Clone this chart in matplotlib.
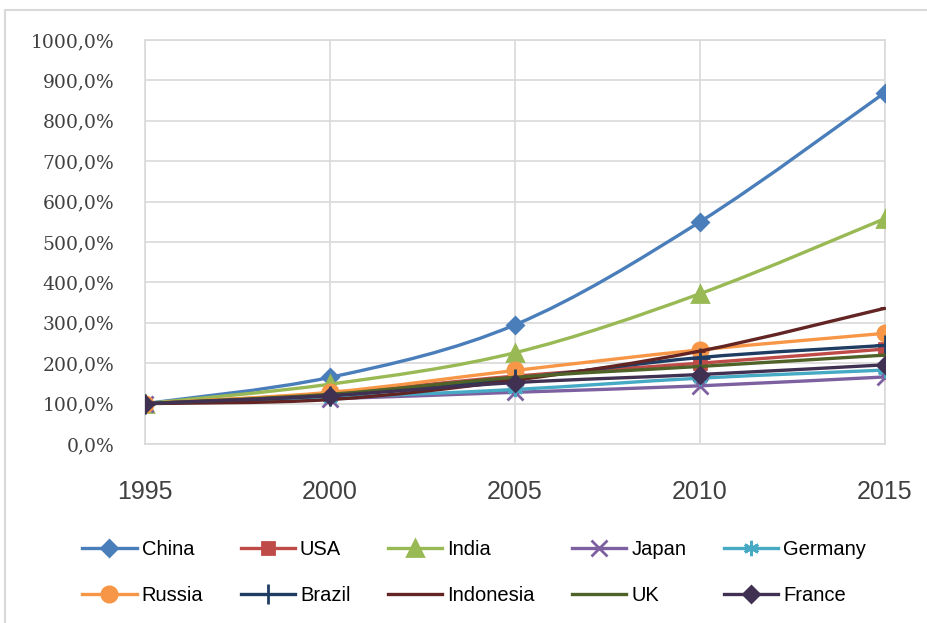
import numpy as np
import matplotlib
matplotlib.use("Agg")
import matplotlib.pyplot as plt
from matplotlib.path import Path
from matplotlib.patches import PathPatch, Rectangle
from matplotlib.lines import Line2D

years = [1995, 2000, 2005, 2010, 2015]

# growth relative to 1995, in percent
china = [100, 165, 295, 550, 870]
usa = [100, 125, 168, 200, 235]
india = [100, 148, 226, 372, 558]
japan = [100, 112, 128, 144, 166]
germany = [100, 115, 135, 163, 183]
russia = [100, 128, 182, 233, 274]
brazil = [100, 120, 162, 214, 244]
indonesia = [100, 110, 158, 230, 336]
uk = [100, 123, 165, 192, 220]
france = [100, 120, 152, 172, 196]

names = ["China", "USA", "India", "Japan", "Germany",
         "Russia", "Brazil", "Indonesia", "UK", "France"]
series = [china, usa, india, japan, germany,
          russia, brazil, indonesia, uk, france]

colors = ["#4A7EBB", "#BE4B48", "#98B954", "#7D60A0", "#46AAC5",
          "#F79646", "#1F3D63", "#632523", "#4F6228", "#403152"]
markers = ["D", "s", "^", "x", (6, 2, 0), "o", "+", "_", "_", "D"]
msizes = [8, 9, 11, 11, 11, 11, 14, 7, 7, 8]


def smooth_path(x, y):
    # Catmull-Rom style bezier through the points (like Excel's smoothed line)
    pts = np.column_stack([x, y]).astype(float)
    ext = np.vstack([pts[0], pts, pts[-1]])
    verts = [pts[0]]
    codes = [Path.MOVETO]
    for i in range(len(pts) - 1):
        p0, p1, p2, p3 = ext[i], ext[i + 1], ext[i + 2], ext[i + 3]
        c1 = p1 + (p2 - p0) / 6.0
        c2 = p2 - (p3 - p1) / 6.0
        verts += [c1, c2, p2]
        codes += [Path.CURVE4] * 3
    return Path(verts, codes)


fig = plt.figure(figsize=(9.28, 6.23), dpi=100)
ax = fig.add_axes([145 / 928, 179 / 623, 740 / 928, 404 / 623])

grey = "#D9D9D9"
handles = []
for i, (name, vals) in enumerate(zip(names, series)):
    z = 3 + i * 0.1
    patch = PathPatch(smooth_path(years, vals), facecolor="none",
                      edgecolor=colors[i], lw=2.4, zorder=z,
                      capstyle="round", joinstyle="round")
    ax.add_patch(patch)
    ax.plot(years, vals, ls="none", marker=markers[i], ms=msizes[i],
            color=colors[i], mec=colors[i], mew=2, zorder=z + 0.05)
    handles.append(Line2D([], [], color=colors[i], lw=2.4, marker=markers[i],
                          ms=msizes[i], mew=2, mec=colors[i]))

ax.set_xlim(1995, 2015)
ax.set_ylim(0, 1000)
ax.set_xticks(years)
ax.set_yticks(np.arange(0, 1001, 100))
ax.set_yticklabels([f"{v},0%" for v in range(0, 1001, 100)],
                   family="DejaVu Serif", fontsize=13.5, color="#404040")
ax.set_xticklabels([str(y) for y in years], family="Liberation Sans",
                   fontsize=18, color="#404040")
ax.tick_params(axis="y", length=0, pad=22)
ax.tick_params(axis="x", length=0, pad=26)
ax.grid(True, color=grey, lw=1.2, zorder=0)
ax.set_axisbelow(True)
for sp in ax.spines.values():
    sp.set_color(grey)
    sp.set_linewidth(1.2)

# legend filled column-wise, so reorder to get two rows
order = [0, 5, 1, 6, 2, 7, 3, 8, 4, 9]
fig.legend([handles[k] for k in order], [names[k] for k in order],
           loc="center", bbox_to_anchor=(474 / 928, 50.5 / 623), ncol=5,
           frameon=False, prop={"family": "Liberation Sans", "size": 14.5},
           handlelength=2.7, handletextpad=0.25, columnspacing=1.85,
           labelspacing=1.3, borderpad=0, numpoints=1)

# outer chart border (cut by the image edge on right and bottom)
fig.patches.append(Rectangle((5 / 928, -0.1), 1.2, (613 / 623) + 0.1,
                             transform=fig.transFigure, fill=False,
                             edgecolor=grey, lw=1.5))

fig.savefig("out.png", dpi=100, facecolor="white")
